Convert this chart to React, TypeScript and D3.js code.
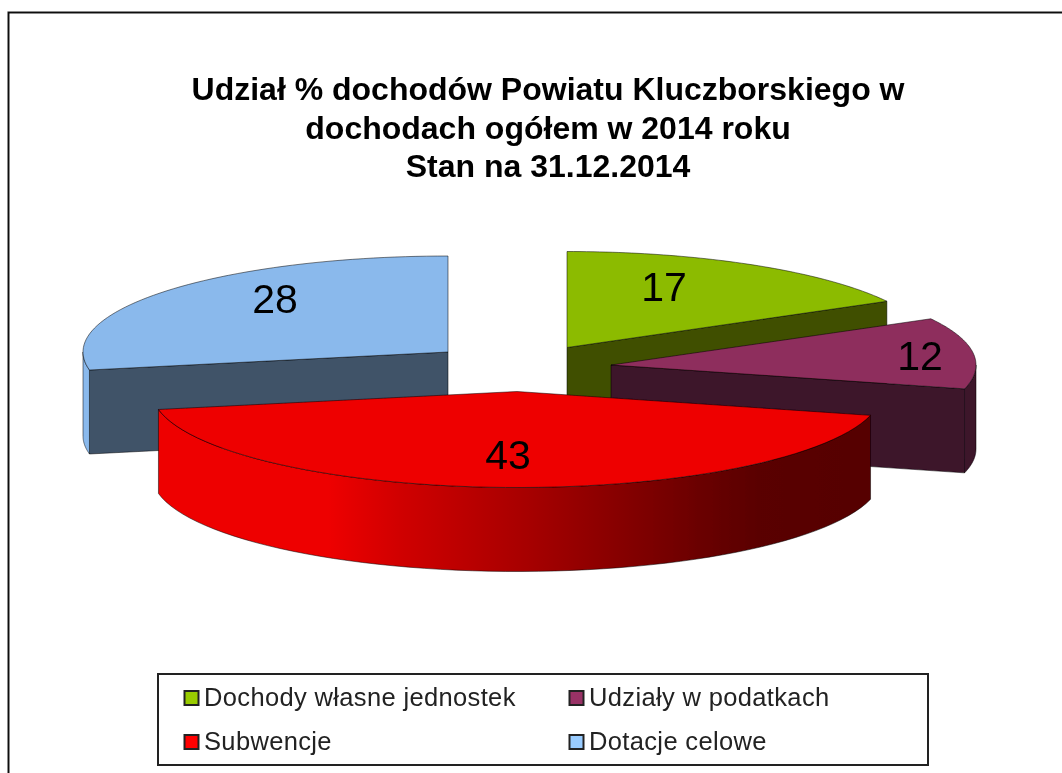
import React from "react";
import * as d3 from "d3";

const categories = ["Dochody własne jednostek", "Udziały w podatkach", "Subwencje", "Dotacje celowe"];
const values = [17, 12, 43, 28];
const titleLines = ["Udział % dochodów Powiatu Kluczborskiego w", "dochodach ogółem w 2014 roku", "Stan na 31.12.2014"];

const topColors = ["#8cbb00", "#8e2d5d", "#ee0000", "#8ab9ec"];
const faceColors = ["#3f5000", "#3c142a", "#ee0000", "#3f5268"];
const rimColors = ["#3f5000", "#3c142a", "url(#redRim)", "#8ab9ec"];
const legendColors = ["#99cc00", "#993366", "#ff0000", "#99ccff"];
const centers: [number, number][] = [[567, 347.5], [611, 365], [517, 391.5], [448, 352]];
const labelPos: [number, number][] = [[664, 301], [920, 370], [508, 469], [275, 313]];
const legendPos: [number, number][] = [[184.5, 691], [569.5, 691], [184.5, 735], [569.5, 735]];
const legendBaseline = [706, 706, 750, 750];
const titleBaseline = [100, 138.5, 177];

const RX = 365, RY = 96, DEPTH = 84;
const font = "'Liberation Sans', Arial, sans-serif";

export default function App() {
  const arcs = d3.pie<number>().sort(null).value(d => d)(values);
  const line = d3.line<[number, number]>();
  const pt = (i: number, a: number, dy = 0): [number, number] => [
    centers[i][0] + RX * Math.sin(a),
    centers[i][1] - RY * Math.cos(a) + dy,
  ];
  const sample = (i: number, a0: number, a1: number, dy = 0) =>
    d3.range(0, 61).map(k => pt(i, a0 + ((a1 - a0) * k) / 60, dy));
  const apex = (i: number, dy = 0): [number, number] => [centers[i][0], centers[i][1] + dy];
  const clampFront = (a0: number, a1: number): [number, number] | null => {
    const lo = Math.max(a0, Math.PI / 2), hi = Math.min(a1, (3 * Math.PI) / 2);
    return lo < hi ? [lo, hi] : null;
  };
  const edge = { stroke: "#000", strokeOpacity: 0.5, strokeWidth: 1 };

  const slice = (i: number) => {
    const { startAngle: a0, endAngle: a1 } = arcs[i];
    const front = clampFront(a0, a1);
    const cutAngle = i === 3 ? a0 : a1;
    const cut = [apex(i), pt(i, cutAngle), pt(i, cutAngle, DEPTH), apex(i, DEPTH)] as [number, number][];
    const rim = front
      ? [...sample(i, front[0], front[1]), ...sample(i, front[1], front[0], DEPTH)]
      : null;
    return (
      <g key={categories[i]}>
        {i !== 2 && <path d={line(cut)! + "Z"} fill={faceColors[i]} {...edge} />}
        {rim && <path d={line(rim)! + "Z"} fill={rimColors[i]} {...edge} />}
        <path d={line([apex(i), ...sample(i, a0, a1)])! + "Z"} fill={topColors[i]} {...edge} />
      </g>
    );
  };

  return (
    <svg width={1062} height={773} style={{ position: "absolute", left: 0, top: 0, display: "block" }}>
      <defs>
        <linearGradient id="redRim" gradientUnits="userSpaceOnUse" x1={157} x2={872} y1={0} y2={0}>
          <stop offset="0.24" stopColor="#ee0000" />
          <stop offset="0.34" stopColor="#d00000" />
          <stop offset="0.52" stopColor="#a60000" />
          <stop offset="0.76" stopColor="#6a0000" />
          <stop offset="0.84" stopColor="#5a0000" />
          <stop offset="1" stopColor="#560000" />
        </linearGradient>
        <filter id="soft" filterUnits="userSpaceOnUse" x={0} y={0} width={1062} height={773}>
          <feGaussianBlur stdDeviation="0.55" />
        </filter>
      </defs>
      <rect width={1062} height={773} fill="#fff" />
      <g filter="url(#soft)">
        <path d="M8.500 773V12.500H1062" fill="none" stroke="#111" strokeWidth={2} />
        <g fontFamily={font} fontWeight="bold" fontSize={32} textAnchor="middle" fill="#000">
          {titleLines.map((t, i) => (
            <text key={t} x={548} y={titleBaseline[i]}>{t}</text>
          ))}
        </g>
        {[0, 3, 1, 2].map(slice)}
        <g fontFamily={font} fontSize={41} textAnchor="middle" fill="#000">
          {values.map((v, i) => (
            <text key={categories[i]} x={labelPos[i][0]} y={labelPos[i][1]}>{v}</text>
          ))}
        </g>
        <rect x={158} y={674} width={770} height={91} fill="#fff" stroke="#222" strokeWidth={2} />
        {categories.map((c, i) => (
          <g key={c}>
            <rect x={legendPos[i][0]} y={legendPos[i][1]} width={14} height={14} fill={legendColors[i]} stroke="#222" strokeWidth={2} />
            <text x={legendPos[i][0] + 19.5} y={legendBaseline[i]} fontFamily={font} fontSize={25.5} letterSpacing={0.35} fill="#222">{c}</text>
          </g>
        ))}
      </g>
    </svg>
  );
}
